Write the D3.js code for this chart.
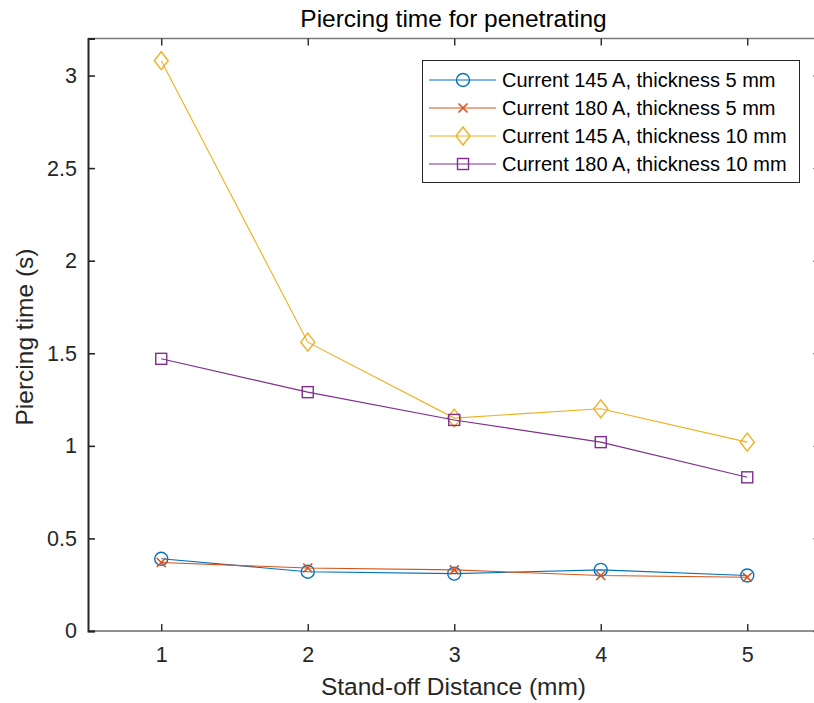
<!DOCTYPE html>
<html>
<head>
<meta charset="utf-8">
<script src="https://cdn.jsdelivr.net/npm/d3@7"></script>
<style>
  html, body { margin: 0; padding: 0; background: #fff; }
  svg { display: block; font-family: "Liberation Sans", Arial, Helvetica, sans-serif; }
</style>
</head>
<body>
<svg id="chart" width="814" height="703"></svg>
<script>
// Stand-off distances (mm)
const distances = [1, 2, 3, 4, 5];

// Piercing times (s) per test condition
const current145Thick5  = [0.39, 0.32, 0.31, 0.33, 0.30];
const current180Thick5  = [0.37, 0.34, 0.33, 0.30, 0.29];
const current145Thick10 = [3.08, 1.56, 1.15, 1.20, 1.02];
const current180Thick10 = [1.47, 1.29, 1.14, 1.02, 0.83];

const seriesNames = [
  "Current 145 A, thickness 5 mm",
  "Current 180 A, thickness 5 mm",
  "Current 145 A, thickness 10 mm",
  "Current 180 A, thickness 10 mm"
];

const xTicks = [1, 2, 3, 4, 5];
const yTicks = [0, 0.5, 1, 1.5, 2, 2.5, 3];

const series = [
  { name: seriesNames[0], values: current145Thick5,  color: "#0072BD", marker: "circle" },
  { name: seriesNames[1], values: current180Thick5,  color: "#D95319", marker: "cross" },
  { name: seriesNames[2], values: current145Thick10, color: "#EDB120", marker: "diamond" },
  { name: seriesNames[3], values: current180Thick10, color: "#7E2F8E", marker: "square" }
];

const svg = d3.select("#chart");
const plot = { left: 88, right: 820.5, top: 38.5, bottom: 631 };

const x = d3.scaleLinear().domain([0.5, 5.5]).range([plot.left, plot.right]);
const y = d3.scaleLinear().domain([0, 3.2]).range([plot.bottom, plot.top]);

const axisColor = "#262626";
const tickLen = 7;
const tickFont = 21.5;
const labelFont = 24.5;
const legendFont = 20;

// Box frame
svg.append("line").attr("x1", plot.left).attr("x2", plot.right)
  .attr("y1", plot.top).attr("y2", plot.top)
  .attr("stroke", "#7a7a7a").attr("stroke-width", 1.4);
svg.append("line").attr("x1", plot.left).attr("x2", plot.right)
  .attr("y1", plot.bottom).attr("y2", plot.bottom)
  .attr("stroke", "#6a6a6a").attr("stroke-width", 1.4);
svg.append("line").attr("x1", plot.right).attr("x2", plot.right)
  .attr("y1", plot.top).attr("y2", plot.bottom)
  .attr("stroke", axisColor).attr("stroke-width", 1.4);

// X axis (bottom) with inward ticks
const xAxis = d3.axisBottom(x).tickValues(xTicks).tickSize(-tickLen).tickPadding(16)
  .tickFormat(d3.format("d"));
const gx = svg.append("g").attr("transform", `translate(0,${plot.bottom})`).call(xAxis);
gx.select(".domain").remove();
gx.selectAll(".tick line").attr("stroke", axisColor).attr("stroke-width", 1.4);
gx.selectAll(".tick text").attr("fill", axisColor).attr("font-size", tickFont)
  .attr("font-family", "Liberation Sans, Arial, sans-serif");

// Top mirrored ticks
const gxTop = svg.append("g").attr("transform", `translate(0,${plot.top})`)
  .call(d3.axisTop(x).tickValues(xTicks).tickSize(-tickLen).tickFormat(""));
gxTop.select(".domain").remove();
gxTop.selectAll(".tick line").attr("stroke", axisColor).attr("stroke-width", 1.4);

// Y axis (left) with inward ticks
const yAxis = d3.axisLeft(y).tickValues(yTicks).tickSize(-tickLen).tickPadding(11)
  .tickFormat(d => d3.format("")(d));
const gy = svg.append("g").attr("transform", `translate(${plot.left},0)`).call(yAxis);
gy.select(".domain").attr("stroke", axisColor).attr("stroke-width", 2);
gy.selectAll(".tick line").attr("stroke", axisColor).attr("stroke-width", 1.6);
gy.selectAll(".tick text").attr("fill", axisColor).attr("font-size", tickFont)
  .attr("font-family", "Liberation Sans, Arial, sans-serif");

// Right mirrored ticks
const gyRight = svg.append("g").attr("transform", `translate(${plot.right},0)`)
  .call(d3.axisRight(y).tickValues(yTicks).tickSize(-tickLen).tickFormat(""));
gyRight.select(".domain").remove();
gyRight.selectAll(".tick line").attr("stroke", axisColor).attr("stroke-width", 1.4);

// Title and axis labels
svg.append("text").attr("x", 453.5).attr("y", 27)
  .attr("text-anchor", "middle").attr("font-size", labelFont).attr("fill", "#000")
  .text("Piercing time for penetrating");
svg.append("text").attr("x", 453.5).attr("y", 695)
  .attr("text-anchor", "middle").attr("font-size", labelFont).attr("fill", axisColor)
  .text("Stand-off Distance (mm)");
svg.append("text")
  .attr("transform", `translate(33,337) rotate(-90)`)
  .attr("text-anchor", "middle").attr("font-size", labelFont).attr("fill", axisColor)
  .text("Piercing time (s)");

// Marker drawing helper
function drawMarker(g, type, cx, cy, color) {
  if (type === "circle") {
    g.append("circle").attr("cx", cx).attr("cy", cy).attr("r", 6.5)
      .attr("fill", "none").attr("stroke", color).attr("stroke-width", 1.4);
  } else if (type === "cross") {
    const s = 4.5;
    g.append("path")
      .attr("d", `M${cx - s},${cy - s}L${cx + s},${cy + s}M${cx - s},${cy + s}L${cx + s},${cy - s}`)
      .attr("stroke", color).attr("stroke-width", 1.6).attr("fill", "none");
  } else if (type === "diamond") {
    const w = 7, h = 9;
    g.append("path")
      .attr("d", `M${cx},${cy - h}L${cx + w},${cy}L${cx},${cy + h}L${cx - w},${cy}Z`)
      .attr("stroke", color).attr("stroke-width", 1.4).attr("fill", "none");
  } else if (type === "square") {
    const s = 5.5;
    g.append("rect").attr("x", cx - s).attr("y", cy - s).attr("width", 2 * s).attr("height", 2 * s)
      .attr("stroke", color).attr("stroke-width", 1.4).attr("fill", "none");
  }
}

const line = d3.line().x((d, i) => x(distances[i])).y(d => y(d));

series.forEach(s => {
  const g = svg.append("g");
  g.append("path").attr("d", line(s.values))
    .attr("fill", "none").attr("stroke", s.color).attr("stroke-width", 1.1);
  s.values.forEach((v, i) => drawMarker(g, s.marker, x(distances[i]), y(v), s.color));
});

// Legend
const legend = { x: 422, y: 60, w: 377, h: 122 };
const lg = svg.append("g");
lg.append("rect").attr("x", legend.x + 0.5).attr("y", legend.y + 0.5)
  .attr("width", legend.w).attr("height", legend.h)
  .attr("fill", "#fff").attr("stroke", axisColor).attr("stroke-width", 1);
series.forEach((s, i) => {
  const cy = 80 + i * 28;
  lg.append("line").attr("x1", 429).attr("x2", 496).attr("y1", cy).attr("y2", cy)
    .attr("stroke", s.color).attr("stroke-width", 1.1);
  drawMarker(lg, s.marker, 463, cy, s.color);
  lg.append("text").attr("x", 502).attr("y", cy + 7).attr("font-size", legendFont)
    .attr("fill", "#000").text(s.name);
});
</script>
</body>
</html>
